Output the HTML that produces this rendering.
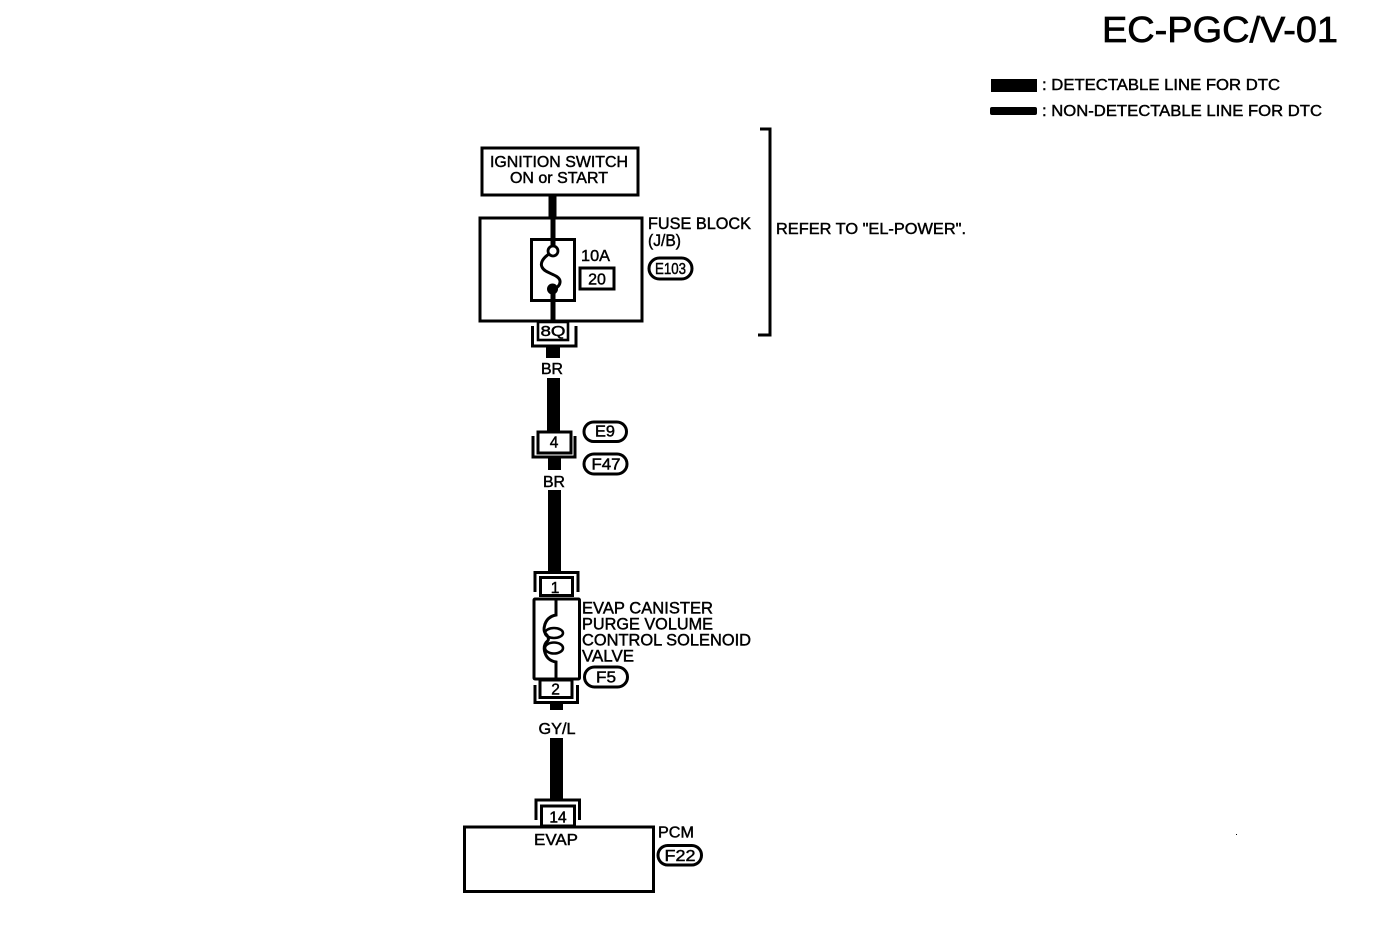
<!DOCTYPE html>
<html><head><meta charset="utf-8"><style>
html,body{margin:0;padding:0;background:#fff;width:1392px;height:942px;overflow:hidden}
svg{display:block}
text{font-family:"Liberation Sans",sans-serif;fill:#000;stroke:#000;stroke-width:.45}
.s{fill:none;stroke:#000;stroke-width:3}
.t{fill:none;stroke:#000;stroke-width:2.6}
</style></head><body>
<svg width="1392" height="942" viewBox="0 0 1392 942" xmlns="http://www.w3.org/2000/svg">
<!-- Title and legend -->
<text x="1102" y="42" font-size="36" textLength="236" lengthAdjust="spacingAndGlyphs" style="stroke-width:.7">EC-PGC/V-01</text>
<rect x="991" y="79" width="46" height="13" fill="#000"/>
<rect x="990" y="107" width="47" height="8" rx="2" fill="#000"/>
<text x="1042" y="90" font-size="16" textLength="238" lengthAdjust="spacingAndGlyphs">: DETECTABLE LINE FOR DTC</text>
<text x="1042" y="116" font-size="16" textLength="280" lengthAdjust="spacingAndGlyphs">: NON-DETECTABLE LINE FOR DTC</text>
<rect x="1236" y="834" width="1" height="1" fill="#000"/>

<!-- Ignition switch -->
<rect class="s" x="482" y="148" width="156" height="47"/>
<text x="559" y="167" font-size="16" text-anchor="middle" textLength="138" lengthAdjust="spacingAndGlyphs">IGNITION SWITCH</text>
<text x="559" y="183" font-size="16" text-anchor="middle" textLength="98" lengthAdjust="spacingAndGlyphs">ON or START</text>
<rect x="548.500" y="195" width="8" height="23" fill="#000"/>

<!-- Fuse block -->
<rect class="s" x="480" y="218" width="162" height="103"/>
<rect class="s" x="531.500" y="239.500" width="43" height="61"/>
<rect x="550.500" y="217" width="5" height="29" fill="#000"/>
<rect x="550.500" y="289" width="5" height="33" fill="#000"/>
<circle cx="553" cy="251" r="5" fill="#fff" stroke="#000" stroke-width="2.800"/>
<circle cx="552.500" cy="289" r="5.500" fill="#000"/>
<path class="s" d="M549 254C543 258 540 263 542 267C545 274 559 274 560 281C560.500 285 557 288 554 289"/>
<text x="581" y="261" font-size="16" textLength="29" lengthAdjust="spacingAndGlyphs">10A</text>
<rect class="s" x="580" y="268" width="34" height="21"/>
<text x="597" y="284.500" font-size="16" text-anchor="middle">20</text>
<text x="648" y="229" font-size="16.500" textLength="103" lengthAdjust="spacingAndGlyphs">FUSE BLOCK</text>
<text x="648" y="246" font-size="16.500" textLength="33" lengthAdjust="spacingAndGlyphs">(J/B)</text>
<rect class="s" x="649" y="258" width="43" height="21" rx="10.500"/>
<text x="670.500" y="274" font-size="15.500" text-anchor="middle" textLength="31" lengthAdjust="spacingAndGlyphs">E103</text>

<!-- Bracket -->
<path class="s" d="M760 129H770V335H758"/>
<text x="776" y="234" font-size="16" textLength="190" lengthAdjust="spacingAndGlyphs">REFER TO "EL-POWER".</text>

<!-- 8Q -->
<rect class="t" x="538" y="322" width="30" height="18"/>
<path class="s" d="M532.500 326V346H576V326"/>
<text x="553" y="336" font-size="15" text-anchor="middle" textLength="25" lengthAdjust="spacingAndGlyphs">8Q</text>
<rect x="546" y="347" width="14" height="11" fill="#000"/>
<text x="552" y="374" font-size="15.500" text-anchor="middle" textLength="22" lengthAdjust="spacingAndGlyphs">BR</text>
<rect x="547" y="378" width="13" height="53" fill="#000"/>

<!-- E9 / F47 -->
<rect class="s" x="538" y="432" width="33" height="21"/>
<path class="s" d="M533 436V457H575V436"/>
<text x="554" y="447.500" font-size="15.500" text-anchor="middle">4</text>
<rect x="548" y="458" width="13" height="12" fill="#000"/>
<rect class="s" x="584" y="422" width="42.500" height="19.500" rx="9.700"/>
<text x="605" y="436.500" font-size="15.500" text-anchor="middle" textLength="20" lengthAdjust="spacingAndGlyphs">E9</text>
<rect class="s" x="584" y="454" width="43" height="20" rx="10"/>
<text x="606" y="469.500" font-size="15.500" text-anchor="middle" textLength="29" lengthAdjust="spacingAndGlyphs">F47</text>
<text x="554" y="487" font-size="15.500" text-anchor="middle" textLength="22" lengthAdjust="spacingAndGlyphs">BR</text>
<rect x="548" y="490" width="13" height="81" fill="#000"/>

<!-- Solenoid -->
<path class="s" d="M535 592V572.500H578V592"/>
<rect class="s" x="540.500" y="577.500" width="32" height="18"/>
<text x="555" y="593" font-size="15.500" text-anchor="middle">1</text>
<rect class="s" x="534" y="599" width="45.500" height="80" rx="1"/>
<path class="s" d="M556 599V615C551 616 546 619 544.500 626C543.500 630 544 632 546 634C548 636 549 639 548 640.500C545 643 543.500 646 544.500 651C546 658 550 661 556 662V679"/>
<ellipse class="t" cx="554" cy="633" rx="9" ry="5"/>
<ellipse class="t" cx="554" cy="648" rx="9" ry="5.500"/>
<text x="582" y="613.500" font-size="16.500" textLength="131" lengthAdjust="spacingAndGlyphs">EVAP CANISTER</text>
<text x="582" y="629.500" font-size="16.500" textLength="131" lengthAdjust="spacingAndGlyphs">PURGE VOLUME</text>
<text x="582" y="645.500" font-size="16.500" textLength="169" lengthAdjust="spacingAndGlyphs">CONTROL SOLENOID</text>
<text x="582" y="661.500" font-size="16.500" textLength="52" lengthAdjust="spacingAndGlyphs">VALVE</text>
<rect class="s" x="584.500" y="667" width="43" height="20" rx="10"/>
<text x="606" y="682.500" font-size="15.500" text-anchor="middle" textLength="20" lengthAdjust="spacingAndGlyphs">F5</text>
<rect class="s" x="540" y="680" width="32" height="17.500"/>
<text x="555.500" y="694.500" font-size="15.500" text-anchor="middle">2</text>
<path class="s" d="M535 685V702.500H577.500V685"/>
<rect x="550" y="703" width="13" height="7" fill="#000"/>
<text x="557" y="734" font-size="15.500" text-anchor="middle" textLength="37" lengthAdjust="spacingAndGlyphs">GY/L</text>
<rect x="550" y="738" width="13" height="61" fill="#000"/>

<!-- PCM -->
<path class="s" d="M536 820V800H579.500V820"/>
<rect class="s" x="541.500" y="806" width="33" height="20"/>
<text x="558" y="822.500" font-size="15.500" text-anchor="middle">14</text>
<rect class="s" x="464.500" y="827" width="189" height="64.500"/>
<text x="556" y="845" font-size="16" text-anchor="middle" textLength="44" lengthAdjust="spacingAndGlyphs">EVAP</text>
<text x="658" y="837.500" font-size="16" textLength="36" lengthAdjust="spacingAndGlyphs">PCM</text>
<rect class="s" x="658" y="845.500" width="43.500" height="19.500" rx="9.700"/>
<text x="680" y="861" font-size="15.500" text-anchor="middle" textLength="31" lengthAdjust="spacingAndGlyphs">F22</text>
</svg>
</body></html>
